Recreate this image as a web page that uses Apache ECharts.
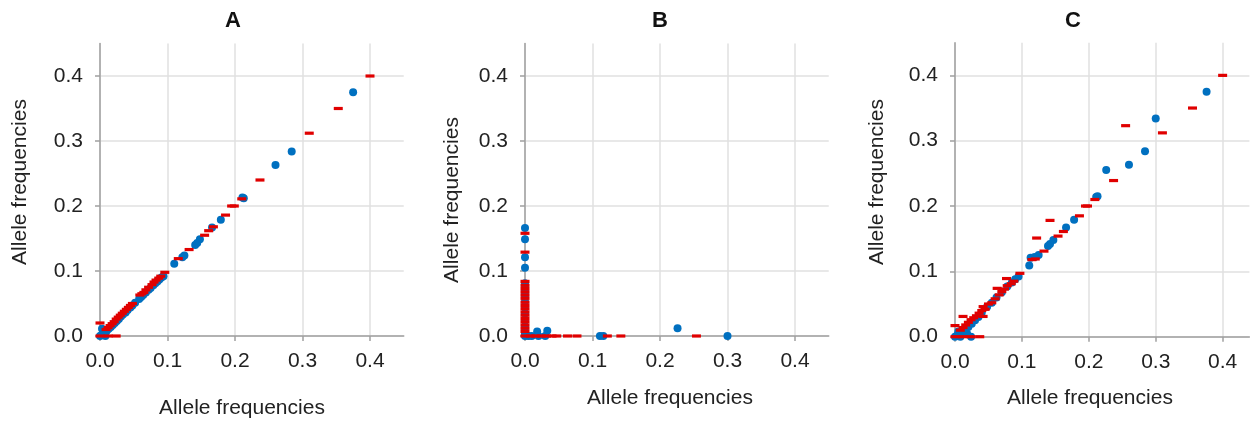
<!DOCTYPE html>
<html><head><meta charset="utf-8">
<script src="https://cdn.jsdelivr.net/npm/echarts@6/dist/echarts.min.js"></script>
<style>html,body{margin:0;padding:0;background:#fff}#c{width:1256px;height:423px}</style>
</head><body><div id="c"></div>
<script>
const panelTitles = ['A', 'B', 'C'];
const axisTicks = [0, 0.1, 0.2, 0.3, 0.4];
const axisTitle = 'Allele frequencies';

const aBlue = [[0.375,0.375],[0.284,0.284],[0.26,0.263],[0.211,0.213],[0.213,0.212],[0.179,0.179],[0.166,0.167],[0.148,0.149],[0.144,0.143],[0.141,0.14],[0.125,0.124],[0.122,0.121],[0.11,0.111],[0.094,0.092],[0.091,0.09],[0.088,0.087],[0.085,0.084],[0.082,0.081],[0.079,0.078],[0.075,0.074],[0.072,0.071],[0.068,0.067],[0.064,0.063],[0.061,0.06],[0.058,0.057],[0.052,0.051],[0.048,0.047],[0.045,0.044],[0.041,0.04],[0.038,0.036],[0.034,0.033],[0.031,0.03],[0.028,0.026],[0.025,0.023],[0.022,0.02],[0.019,0.017],[0.016,0.014],[0.013,0.011],[0.01,0.008],[0.008,0.005],[0.006,0.003],[0.003,0.011],[0.002,0.001],[0,0],[0.008,0]];
const aRed = [[0.4,0.4],[0.353,0.35],[0.31,0.312],[0.237,0.24],[0.21,0.211],[0.199,0.2],[0.195,0.2],[0.186,0.186],[0.168,0.168],[0.161,0.162],[0.155,0.155],[0.132,0.133],[0.116,0.119],[0.096,0.098],[0.09,0.092],[0.087,0.089],[0.083,0.086],[0.08,0.083],[0.077,0.079],[0.072,0.075],[0.068,0.071],[0.065,0.067],[0.062,0.065],[0.059,0.063],[0.048,0.05],[0.045,0.047],[0.042,0.044],[0.039,0.041],[0.036,0.038],[0.033,0.035],[0.03,0.032],[0.027,0.029],[0.024,0.026],[0.021,0.022],[0.018,0.019],[0.015,0.016],[0.012,0.013],[0.009,0.01],[0,0.02],[0,0],[0.012,0],[0.024,0]];

const bBlue = [[0,0.166],[0,0.149],[0,0.121],[0,0.105],[0,0.081],[0,0.075],[0,0.07],[0,0.065],[0,0.06],[0,0.053],[0,0.045],[0,0.035],[0,0.025],[0,0.015],[0,0.009],[0,0.004],[0,0],[0.018,0.007],[0.033,0.008],[0.005,0],[0.01,0],[0.02,0],[0.03,0],[0.111,0],[0.116,0],[0.226,0.012],[0.30,0]];
const bRed = [[0,0.158],[0,0.129],[0,0.084],[0,0.078],[0,0.073],[0,0.068],[0,0.063],[0,0.058],[0,0.052],[0,0.047],[0,0.042],[0,0.037],[0,0.032],[0,0.027],[0,0.022],[0,0.017],[0,0.012],[0,0.007],[0,0],[0.008,0],[0.016,0],[0.024,0],[0.032,0],[0.04,0],[0.047,0],[0.063,0],[0.077,0],[0.122,0],[0.142,0],[0.254,0]];

const cBlue = [[0.376,0.375],[0.30,0.334],[0.284,0.284],[0.26,0.263],[0.226,0.255],[0.211,0.214],[0.213,0.215],[0.178,0.179],[0.166,0.167],[0.147,0.148],[0.142,0.142],[0.139,0.139],[0.125,0.125],[0.119,0.122],[0.113,0.121],[0.111,0.109],[0.095,0.092],[0.09,0.088],[0.085,0.083],[0.078,0.077],[0.07,0.068],[0.062,0.06],[0.055,0.052],[0.048,0.046],[0.04,0.037],[0.035,0.03],[0.03,0.025],[0.025,0.02],[0.02,0.015],[0.015,0.012],[0.012,0.009],[0.01,0.005],[0.005,0.008],[0.003,0.002],[0,0],[0.008,0],[0.024,0],[0.018,0.005]];
const cRed = [[0.4,0.4],[0.355,0.35],[0.31,0.312],[0.255,0.323],[0.237,0.239],[0.209,0.21],[0.195,0.2],[0.198,0.2],[0.186,0.185],[0.142,0.178],[0.162,0.161],[0.154,0.154],[0.122,0.151],[0.133,0.131],[0.12,0.119],[0.115,0.118],[0.097,0.097],[0.077,0.089],[0.088,0.085],[0.084,0.081],[0.078,0.078],[0.074,0.073],[0.063,0.074],[0.07,0.069],[0.066,0.064],[0.06,0.058],[0.055,0.052],[0.05,0.05],[0.042,0.046],[0.045,0.042],[0.04,0.04],[0.042,0.031],[0.036,0.036],[0.032,0.032],[0.028,0.029],[0.024,0.026],[0.02,0.022],[0.016,0.018],[0.012,0.031],[0.012,0.014],[0.008,0.01],[0,0.017],[0,0],[0.012,0],[0.024,0],[0.037,0]];

const panelBlue = [aBlue, bBlue, cBlue];
const panelRed = [aRed, bRed, cRed];

const FONT = 'Liberation Sans, Arial, sans-serif';
const grids = [
  {left: 100, top: 43.5, width: 303.75, height: 292.5},
  {left: 525, top: 43.5, width: 303.75, height: 292.5},
  {left: 955, top: 42.7, width: 294.4, height: 294}
];
const xMax = [0.45, 0.45, 0.44];

function axisCommon(i, isX) {
  return {
    gridIndex: i, type: 'value', min: 0, max: isX ? xMax[i] : 0.45, interval: 0.1,
    axisLine: {show: true, onZero: false, lineStyle: {color: '#a0a0a0', width: 1.5}},
    axisTick: {show: true, inside: false, length: 5, customValues: axisTicks, lineStyle: {color: '#a0a0a0', width: 1.5}},
    axisLabel: {customValues: axisTicks, formatter: v => v.toFixed(1), margin: isX ? 15 : 17, fontSize: 21, color: '#222222', fontFamily: FONT},
    splitLine: {show: true, lineStyle: {color: '#e0e0e0', width: 1.5}}
  };
}

const series = [];
for (let i = 0; i < 3; i++) {
  series.push({type: 'scatter', xAxisIndex: i, yAxisIndex: i, data: panelBlue[i], symbol: 'circle', symbolSize: 8, clip: false,
    itemStyle: {color: '#0070c0', opacity: 1}});
  series.push({type: 'scatter', xAxisIndex: i, yAxisIndex: i, data: panelRed[i], symbol: 'rect', symbolSize: [9, 3.2], clip: false,
    itemStyle: {color: '#e00000', opacity: 1}});
}

const titlePos = [[233, 21], [660, 21], [1073, 21]];
const xNamePos = [[242, 408], [670, 398], [1090, 398]];
const yNamePos = [[20, 182], [452, 200], [877, 182]];
const graphic = [];
for (let i = 0; i < 3; i++) {
  graphic.push({type: 'text', x: titlePos[i][0], y: titlePos[i][1], style: {text: panelTitles[i], font: 'bold 22px ' + FONT, fill: '#111111', align: 'center', verticalAlign: 'middle'}});
  graphic.push({type: 'text', x: xNamePos[i][0], y: xNamePos[i][1], style: {text: axisTitle, font: '21px ' + FONT, fill: '#222222', align: 'center', verticalAlign: 'middle'}});
  graphic.push({type: 'text', x: yNamePos[i][0], y: yNamePos[i][1], rotation: Math.PI / 2, style: {text: axisTitle, font: '21px ' + FONT, fill: '#222222', align: 'center', verticalAlign: 'middle'}});
}

const chart = echarts.init(document.getElementById('c'), null, {renderer: 'canvas'});
chart.setOption({
  animation: false,
  backgroundColor: '#ffffff',
  grid: grids,
  xAxis: [0, 1, 2].map(i => axisCommon(i, true)),
  yAxis: [0, 1, 2].map(i => axisCommon(i, false)),
  series: series,
  graphic: graphic
});
</script>
</body></html>
